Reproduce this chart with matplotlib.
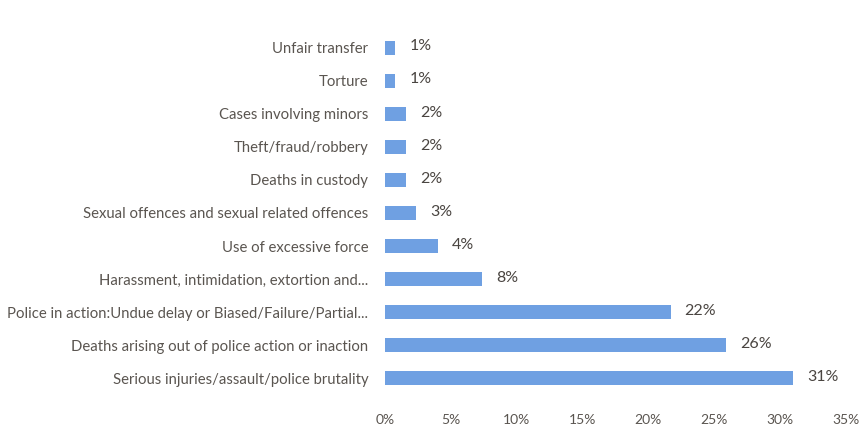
import matplotlib.pyplot as plt
import numpy as np

# data, bottom to top as drawn
categories = [
    "Serious injuries/assault/police brutality",
    "Deaths arising out of police action or inaction",
    "Police in action:Undue delay or Biased/Failure/Partial...",
    "Harassment, intimidation, extortion and...",
    "Use of excessive force",
    "Sexual offences and sexual related offences",
    "Deaths in custody",
    "Theft/fraud/robbery",
    "Cases involving minors",
    "Torture",
    "Unfair transfer",
]
shares = [31.0, 25.9, 21.7, 7.4, 4.0, 2.4, 1.6, 1.6, 1.6, 0.8, 0.8]
share_labels = ["31%", "26%", "22%", "8%", "4%", "3%", "2%", "2%", "2%", "1%", "1%"]
x_ticks = [0, 5, 10, 15, 20, 25, 30, 35]

bar_color = "#6fa0e2"
text_color = "#5a5550"

plt.rcParams["font.family"] = ["Lato", "DejaVu Sans"]

fig = plt.figure(figsize=(8.63, 4.29), dpi=100)
ax = fig.add_axes([0.446, 0.080, 0.534, 0.847])

y = np.arange(len(categories))
bars = ax.barh(y, shares, height=0.44, color=bar_color)

for rect, lab in zip(bars, share_labels):
    ax.annotate(lab, (rect.get_width(), rect.get_y() + rect.get_height() / 2),
                xytext=(10, 1), textcoords="offset points",
                va="center", ha="left", fontsize=11.5, color="#4a4541")

ax.set_xlim(0, 35)
ax.set_ylim(-0.5, len(categories) - 0.5)
ax.set_xticks(x_ticks)
ax.set_xticklabels([f"{t}%" for t in x_ticks], fontsize=10, color=text_color)
ax.set_yticks(y)
ax.set_yticklabels(categories, fontsize=10.7, color=text_color)
ax.tick_params(axis="both", length=0)
ax.tick_params(axis="y", pad=12)
ax.tick_params(axis="x", pad=14)
for s in ax.spines.values():
    s.set_visible(False)

fig.savefig("out.png", dpi=100)
